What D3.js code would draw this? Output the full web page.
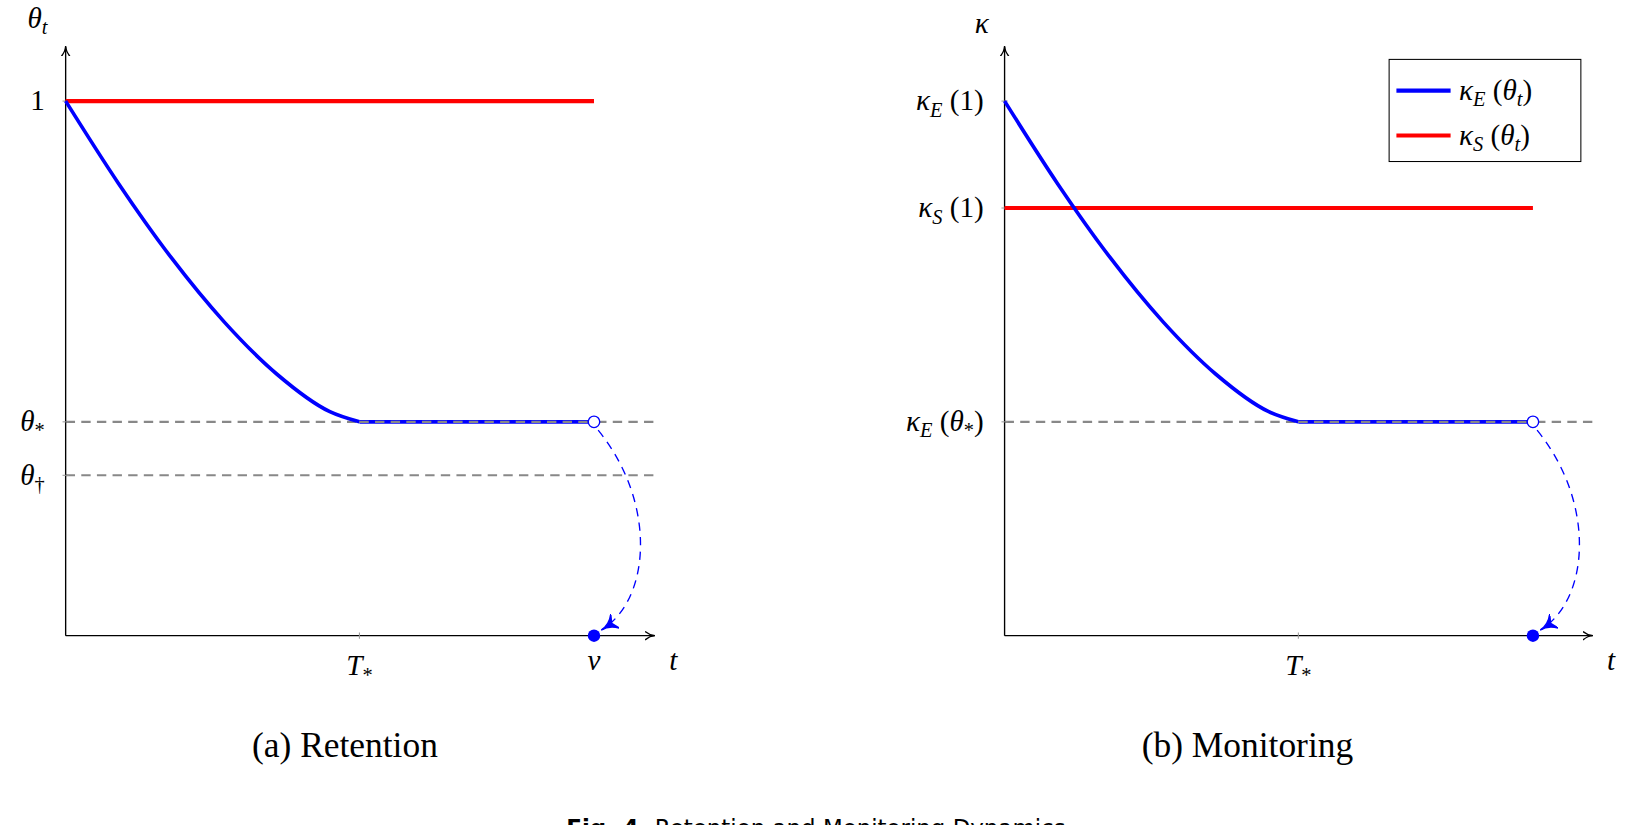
<!DOCTYPE html>
<html><head><meta charset="utf-8">
<script src="https://cdn.jsdelivr.net/npm/d3@7"></script>
<style>body{margin:0;background:#fff;overflow:hidden}text{font-family:"Liberation Serif","DejaVu Serif",serif}</style>
</head><body>
<svg id="c" width="1634" height="825"></svg>
<script>
// data (t normalised so that nu = 1; level 1 = top value)
const tStar = 0.556;
const thetaStar = 0.4, thetaDagger = 0.3;
const curveT = [0, 0.1, 0.2, 0.3, 0.4, 0.5, 0.556];
const curveV = [1, 0.846, 0.707, 0.587, 0.489, 0.419, 0.4];
const flatT = [0.556, 1];
const redA = 1.0;            // kappa_S in panel a
const redB = 0.8;            // kappa_S(1) in panel b
const panels = [
  {x0:63, x1:628, title:"(a) Retention", red:redA,
   yticks:[{v:1,l:[["1"]]},{v:thetaStar,l:[["θ","i"],["*","sub"]]},{v:thetaDagger,l:[["θ","i"],["†","sub"]]}],
   dashes:[thetaStar, thetaDagger], nu:true},
  {x0:964, x1:1528, title:"(b) Monitoring", red:redB,
   yticks:[{v:1,l:[["κ","i"],["E","subi"],[" (1)"]]},{v:redB,l:[["κ","i"],["S","subi"],[" (1)"]]},{v:thetaStar,l:[["κ","i"],["E","subi"],[" ("],["θ","i"],["*","sub"],[")"]]}],
   dashes:[thetaStar], nu:false}
];
const svg0 = d3.select("#c");
const defs = svg0.append("defs");
defs.append("marker").attr("id","ax").attr("viewBox","0 0 10 10").attr("refX",9).attr("refY",5)
  .attr("markerWidth",10).attr("markerHeight",10).attr("markerUnits","userSpaceOnUse").attr("orient","auto")
  .append("path").attr("d","M0,1 Q5,5 10,5 Q5,5 0,9").attr("fill","none").attr("stroke","#000").attr("stroke-width",1.3);
defs.append("marker").attr("id","ar").attr("viewBox","0 0 12 12").attr("refX",11).attr("refY",6)
  .attr("markerWidth",16).attr("markerHeight",16).attr("markerUnits","userSpaceOnUse").attr("orient","auto")
  .append("path").attr("d","M0,0 Q5,6 12,6 Q5,6 0,12 L3,6Z").attr("fill","blue").attr("stroke","blue").attr("stroke-width",1);
const svg = svg0.append("g").attr("transform","scale(1.0421)");

function label(g, x, y, parts, anchor, size){
  const t = g.append("text").attr("x",x).attr("y",y).attr("text-anchor",anchor).attr("font-size",size);
  let pending = 0;
  parts.forEach(p=>{
    const s = t.append("tspan").text(p[0]);
    let dy = pending; pending = 0;
    if(p[1]==="i") s.attr("font-style","italic");
    if(p[1]==="sub"||p[1]==="subi"){
      s.attr("font-size",size*0.7); dy += 6; pending = -6;
      if(p[1]==="subi") s.attr("font-style","italic");
    }
    if(dy) s.attr("dy",dy);
  });
  return t;
}

panels.forEach((p,i)=>{
  const g = svg.append("g");
  const x = d3.scaleLinear().domain([0,1]).range([p.x0, p.x0 + (570-63)]);
  const y = d3.scaleLinear().domain([0,1]).range([610,97]);
  p.dashes.forEach(v=>g.append("line").attr("x1",p.x0).attr("x2",p.x1).attr("y1",y(v)).attr("y2",y(v))
    .attr("stroke","#888").attr("stroke-width",2).attr("stroke-dasharray","9,6"));
  g.append("line").attr("x1",p.x0).attr("x2",p.x1).attr("y1",610).attr("y2",610).attr("stroke","#000").attr("stroke-width",1.3).attr("marker-end","url(#ax)");
  g.append("line").attr("x1",p.x0).attr("x2",p.x0).attr("y1",610).attr("y2",45).attr("stroke","#000").attr("stroke-width",1.3).attr("marker-end","url(#ax)");
  p.yticks.forEach(t=>{
    g.append("line").attr("x1",p.x0-3).attr("x2",p.x0+3).attr("y1",y(t.v)).attr("y2",y(t.v)).attr("stroke","#999");
    label(g, p.x0-20, y(t.v)+9, t.l, "end", 28);
  });
  g.append("line").attr("x1",x(tStar)).attr("x2",x(tStar)).attr("y1",607).attr("y2",613).attr("stroke","#999");
  label(g, x(tStar), 648, [["T","i"],["*","sub"]], "middle", 28);
  if(p.nu) label(g, x(1), 643, [["ν","i"]], "middle", 28);
  label(g, p.x1+18, 643, [["t","i"]], "middle", 28);
  if(i===0) label(g, p.x0-27, 27, [["θ","i"],["t","subi"]], "middle", 28);
  else label(g, p.x0-22, 32, [["κ","i"]], "middle", 28);
  g.append("line").attr("x1",x(0)).attr("x2",x(1)).attr("y1",y(p.red)).attr("y2",y(p.red)).attr("stroke","red").attr("stroke-width",4);
  const pts = curveT.map((t,k)=>[t,curveV[k]]);
  g.append("path").attr("d",d3.line().x(d=>x(d[0])).y(d=>y(d[1])).curve(d3.curveMonotoneX)(pts))
    .attr("fill","none").attr("stroke","blue").attr("stroke-width",3.5);
  g.append("path").attr("d",d3.line().x(d=>x(d)).y(()=>y(thetaStar))(flatT))
    .attr("fill","none").attr("stroke","blue").attr("stroke-width",3.5);
  g.append("line").attr("x1",x(tStar)).attr("x2",x(1)).attr("y1",y(thetaStar)).attr("y2",y(thetaStar))
    .attr("stroke","#888").attr("stroke-width",2).attr("stroke-dasharray","9,6");
  const jp = d3.path();
  jp.moveTo(x(1)+4, y(thetaStar)+8);
  jp.bezierCurveTo(x(1)+60, y(0.25), x(1)+55, y(0.07), x(1)+8, y(0)-6);
  g.append("path").attr("d",jp.toString()).attr("fill","none").attr("stroke","blue").attr("stroke-width",1.3)
    .attr("stroke-dasharray","8,6").attr("marker-end","url(#ar)");
  g.append("circle").attr("cx",x(1)).attr("cy",y(thetaStar)).attr("r",5.5).attr("fill","#fff").attr("stroke","blue").attr("stroke-width",1.3);
  g.append("circle").attr("cx",x(1)).attr("cy",y(0)).attr("r",6).attr("fill","blue");
  g.append("text").attr("x",(i===0?331:1197)).attr("y",726).attr("text-anchor","middle").attr("font-size",34).text(p.title);
});
const lg = svg.append("g");
lg.append("rect").attr("x",1333).attr("y",57).attr("width",184).attr("height",98).attr("fill","#fff").attr("stroke","#000").attr("stroke-width",1);
[["blue","E"],["red","S"]].forEach((d,k)=>{
  const yy = 87 + k*43;
  lg.append("line").attr("x1",1340).attr("x2",1392).attr("y1",yy).attr("y2",yy).attr("stroke",d[0]).attr("stroke-width",4);
  label(lg, 1400, yy+9, [["κ","i"],[d[1],"subi"],[" ("],["θ","i"],["t","subi"],[")"]], "start", 28);
});
svg.append("text").attr("x",783).attr("y",802).attr("text-anchor","middle").attr("font-size",22)
  .html('<tspan font-weight="bold" font-family="DejaVu Sans">Fig. 4.</tspan><tspan font-family="DejaVu Sans"> Retention and Monitoring Dynamics</tspan>');
</script>
</body></html>
